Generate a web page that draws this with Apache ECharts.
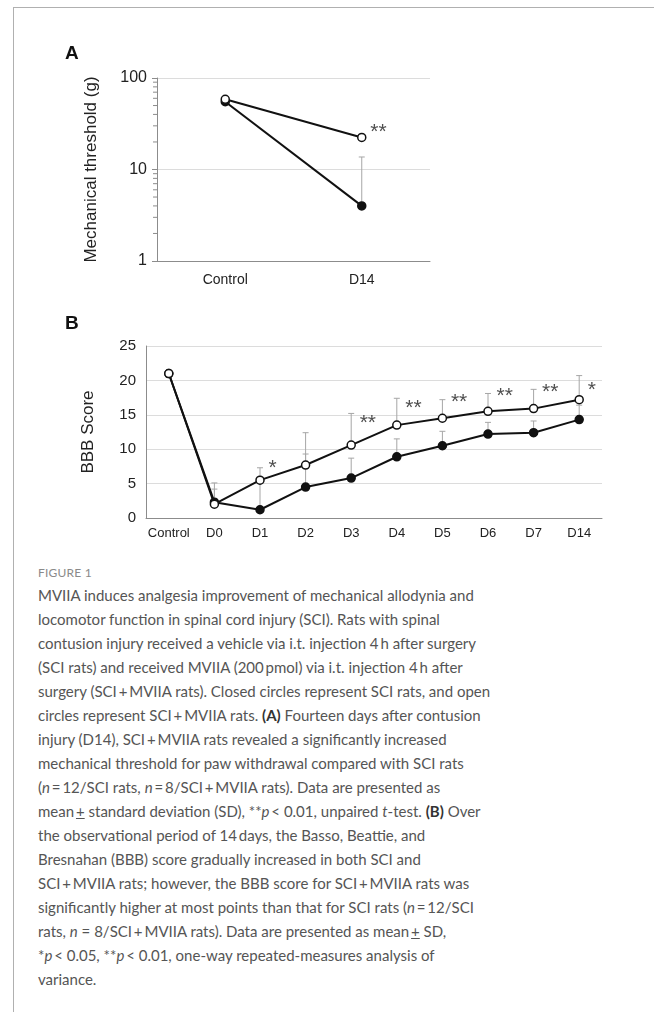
<!DOCTYPE html>
<html>
<head>
<meta charset="utf-8">
<script src="https://cdn.jsdelivr.net/npm/echarts@6/dist/echarts.min.js"></script>
<style>
  body { margin: 0; background: #fff; }
  #frame { position: absolute; left: 13px; top: 7px; width: 660px; height: 1020px;
           border-top: 1px solid #b0b0b0; border-left: 1px solid #b0b0b0; }
  #main { position: absolute; left: 0; top: 0; width: 654px; height: 560px; }
  #figlabel { position: absolute; left: 38px; top: 565px; line-height: 16px;
              font-family: Lato, sans-serif; font-size: 12px; color: #8a8a8a; letter-spacing: 0.2px; }
  #caption { position: absolute; left: 38px; top: 583px; line-height: 24px; white-space: nowrap;
             font-family: Lato, sans-serif; font-size: 15px; color: #555; }
  #caption b { color: #333; }
  .pm { text-decoration: underline; }
</style>
</head>
<body>
<div id="frame"></div>
<div id="main"></div>
<div id="figlabel">FIGURE 1</div>
<div id="caption">
MVIIA induces analgesia improvement of mechanical allodynia and<br>
locomotor function in spinal cord injury (SCI). Rats with spinal<br>
contusion injury received a vehicle via i.t. injection 4&thinsp;h after surgery<br>
(SCI rats) and received MVIIA (200&thinsp;pmol) via i.t. injection 4&thinsp;h after<br>
surgery (SCI&thinsp;+&thinsp;MVIIA rats). Closed circles represent SCI rats, and open<br>
circles represent SCI&thinsp;+&thinsp;MVIIA rats. <b>(A)</b> Fourteen days after contusion<br>
injury (D14), SCI&thinsp;+&thinsp;MVIIA rats revealed a significantly increased<br>
mechanical threshold for paw withdrawal compared with SCI rats<br>
(<i>n</i>&thinsp;=&thinsp;12/SCI rats, <i>n</i>&thinsp;=&thinsp;8/SCI&thinsp;+&thinsp;MVIIA rats). Data are presented as<br>
mean&thinsp;<span class="pm">+</span> standard deviation (SD), **<i>p</i>&thinsp;&lt; 0.01, unpaired <i>t</i>-test. <b>(B)</b> Over<br>
the observational period of 14&thinsp;days, the Basso, Beattie, and<br>
Bresnahan (BBB) score gradually increased in both SCI and<br>
SCI&thinsp;+&thinsp;MVIIA rats; however, the BBB score for SCI&thinsp;+&thinsp;MVIIA rats was<br>
significantly higher at most points than that for SCI rats (<i>n</i>&thinsp;=&thinsp;12/SCI<br>
rats, <i>n</i> = 8/SCI&thinsp;+&thinsp;MVIIA rats). Data are presented as mean&thinsp;<span class="pm">+</span> SD,<br>
*<i>p</i>&thinsp;&lt; 0.05, **<i>p</i>&thinsp;&lt; 0.01, one-way repeated-measures analysis of<br>
variance.
</div>
<script>
// panel A: mechanical threshold (g), log scale
var catsA = ['Control', 'D14'];
var openA = [58.6, 22.4];      // SCI + MVIIA
var closedA = [55, 4.0];       // SCI
var openSdA = [0, 0];
var closedSdA = [0, 9.7];
var starCatsA = [1];
var starTextA = ['**'];
var starYA = [28.9];
var minorTicksA = [2, 3, 4, 5, 6, 7, 8, 9, 20, 30, 40, 50, 60, 70, 80, 90];

// panel B: BBB score
var catsB = ['Control', 'D0', 'D1', 'D2', 'D3', 'D4', 'D5', 'D6', 'D7', 'D14'];
var openB = [21.0, 2.0, 5.5, 7.7, 10.6, 13.5, 14.5, 15.5, 15.9, 17.2];
var closedB = [21.0, 2.3, 1.2, 4.5, 5.8, 8.9, 10.5, 12.2, 12.4, 14.3];
var openSdB = [0, 3.1, 1.8, 4.7, 4.6, 3.9, 2.7, 2.6, 2.8, 3.5];
var closedSdB = [0, 1.9, 4.3, 4.8, 2.9, 2.6, 2.1, 1.7, 1.7, 2.1];
var starCatsB = [2, 4, 5, 6, 7, 8, 9];
var starTextB = ['*', '**', '**', '**', '**', '**', '*'];
var starYB = [8.0, 14.5, 16.7, 17.6, 18.5, 19.0, 19.3];

var FONT = '"Liberation Sans", Arial, sans-serif';
var AXIS_GRAY = '#8c8c8c';
var ERR_GRAY = '#a6a6a6';

function errData(vals, sds) {
  var out = [];
  for (var i = 0; i < vals.length; i++) {
    if (sds[i] > 0) out.push([i, vals[i], vals[i] + sds[i]]);
  }
  return out;
}

function renderErr(params, api) {
  var p0 = api.coord([api.value(0), api.value(1)]);
  var p1 = api.coord([api.value(0), api.value(2)]);
  var st = { stroke: ERR_GRAY, lineWidth: 1 };
  return {
    type: 'group',
    children: [
      { type: 'line', shape: { x1: p0[0], y1: p0[1], x2: p1[0], y2: p1[1] }, style: st },
      { type: 'line', shape: { x1: p1[0] - 3, y1: p1[1], x2: p1[0] + 3, y2: p1[1] }, style: st }
    ]
  };
}

function starData(cats, ys, texts) {
  return cats.map(function (c, i) { return { value: [c, ys[i]], name: texts[i] }; });
}

var starLabel = {
  show: true, position: 'inside', align: 'left', offset: [8.5, 5],
  formatter: function (p) { return p.name; },
  fontFamily: FONT, fontSize: 21, color: '#222'
};

function lineSeries(xi, yi, data, filled, z) {
  return {
    type: 'line', xAxisIndex: xi, yAxisIndex: yi, data: data,
    symbol: 'circle', symbolSize: 8, z: z,
    lineStyle: { color: '#111', width: 2 },
    itemStyle: { color: filled ? '#111' : '#fff', borderColor: '#111', borderWidth: 1.5 },
    animation: false
  };
}

var chart = echarts.init(document.getElementById('main'));
chart.setOption({
  animation: false,
  title: [
    { text: 'A', left: 65, top: 44, padding: 0,
      textStyle: { fontFamily: FONT, fontSize: 19, fontWeight: 'bold', color: '#111' } },
    { text: 'B', left: 65, top: 314, padding: 0,
      textStyle: { fontFamily: FONT, fontSize: 19, fontWeight: 'bold', color: '#111' } }
  ],
  grid: [
    { left: 157, top: 78, width: 273, height: 183 },
    { left: 146, top: 346, width: 456, height: 172 }
  ],
  xAxis: [
    { type: 'category', gridIndex: 0, data: catsA,
      axisLine: { lineStyle: { color: AXIS_GRAY, width: 1 } },
      axisTick: { show: false },
      axisLabel: { fontFamily: FONT, fontSize: 14, color: '#222', margin: 12 } },
    { type: 'category', gridIndex: 1, data: catsB,
      axisLine: { lineStyle: { color: AXIS_GRAY, width: 1 } },
      axisTick: { show: false },
      axisLabel: { fontFamily: FONT, fontSize: 13, color: '#222', margin: 9, interval: 0 } }
  ],
  yAxis: [
    { type: 'log', gridIndex: 0, logBase: 10, min: 1, max: 100,
      name: 'Mechanical threshold (g)', nameLocation: 'middle', nameGap: 57,
      nameTextStyle: { fontFamily: FONT, fontSize: 17, color: '#222' },
      axisLine: { show: true, lineStyle: { color: AXIS_GRAY, width: 1 } },
      axisTick: { show: true, length: 5, lineStyle: { color: AXIS_GRAY } },
      axisLabel: { fontFamily: FONT, fontSize: 16, color: '#222', margin: 10 },
      splitLine: { lineStyle: { color: '#dcdcdc', width: 1 } } },
    { type: 'value', gridIndex: 1, min: 0, max: 25, interval: 5,
      name: 'BBB Score', nameLocation: 'middle', nameGap: 49,
      nameTextStyle: { fontFamily: FONT, fontSize: 17, color: '#222' },
      axisLine: { show: true, lineStyle: { color: AXIS_GRAY, width: 1 } },
      axisTick: { show: false },
      axisLabel: { fontFamily: FONT, fontSize: 15, color: '#222', margin: 10 },
      splitLine: { lineStyle: { color: '#dcdcdc', width: 1 } } }
  ],
  series: [
    // minor ticks on the log axis
    { type: 'custom', xAxisIndex: 0, yAxisIndex: 0, z: 1, silent: true,
      data: minorTicksA.map(function (v) { return [0, v]; }),
      renderItem: function (params, api) {
        var y = api.coord([0, api.value(1)])[1];
        var x = params.coordSys.x;
        return { type: 'line', shape: { x1: x - 4, y1: y, x2: x, y2: y },
                 style: { stroke: AXIS_GRAY, lineWidth: 1 } };
      } },
    { type: 'custom', xAxisIndex: 0, yAxisIndex: 0, z: 2, renderItem: renderErr,
      data: errData(closedA, closedSdA) },
    { type: 'custom', xAxisIndex: 0, yAxisIndex: 0, z: 2, renderItem: renderErr,
      data: errData(openA, openSdA) },
    lineSeries(0, 0, closedA, true, 3),
    lineSeries(0, 0, openA, false, 4),
    { type: 'scatter', xAxisIndex: 0, yAxisIndex: 0, symbolSize: 0, z: 5,
      data: starData(starCatsA, starYA, starTextA), label: starLabel },

    { type: 'custom', xAxisIndex: 1, yAxisIndex: 1, z: 2, renderItem: renderErr,
      data: errData(closedB, closedSdB) },
    { type: 'custom', xAxisIndex: 1, yAxisIndex: 1, z: 2, renderItem: renderErr,
      data: errData(openB, openSdB) },
    lineSeries(1, 1, closedB, true, 3),
    lineSeries(1, 1, openB, false, 4),
    { type: 'scatter', xAxisIndex: 1, yAxisIndex: 1, symbolSize: 0, z: 5,
      data: starData(starCatsB, starYB, starTextB), label: starLabel }
  ]
});
</script>
</body>
</html>
